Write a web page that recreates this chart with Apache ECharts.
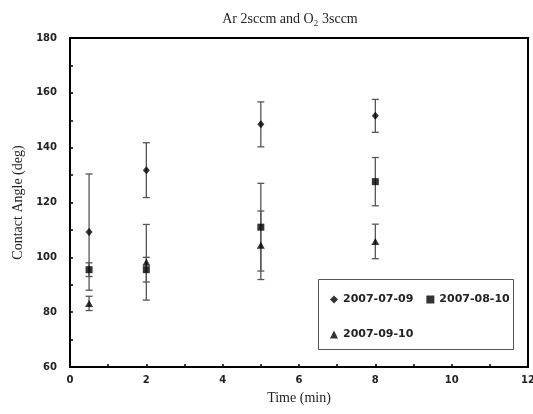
<!DOCTYPE html>
<html>
<head>
<meta charset="utf-8">
<script src="https://cdn.jsdelivr.net/npm/echarts@6/dist/echarts.min.js"></script>
<style>
html,body{margin:0;padding:0;background:#fff;}
#main{width:533px;height:414px;}
</style>
</head>
<body>
<div id="main"></div>
<script>
var times = [0.5, 2, 5, 8];                       // 处理时间 (min)
var angle0709 = [109.2, 131.8, 148.5, 151.6];     // 2007-07-09 接触角
var err0709 = [21.2, 10, 8.2, 6];
var angle0810 = [95.5, 95.5, 111, 127.6];         // 2007-08-10
var err0810 = [2.5, 4.5, 16, 8.8];
var angle0910 = [83.2, 98.2, 104.4, 105.8];       // 2007-09-10
var err0910 = [2.6, 13.8, 12.5, 6.3];

var names = ['2007-07-09', '2007-08-10', '2007-09-10'];

function pts(v){
    var out = [];
    for(var i=0;i<times.length;i++){
        out.push([times[i], v[i]]);
    }
    return out;
}
function errPts(v, e){
    var out = [];
    for(var i=0;i<times.length;i++){
        out.push([times[i], v[i]-e[i], v[i]+e[i]]);
    }
    return out;
}

// 误差线
function errSeries(v, e){
    return {
        type:'custom',
        silent:true,
        z:1,
        data: errPts(v, e),
        encode:{x:0, y:[1,2]},
        renderItem:function(params, api){
            var lo = api.coord([api.value(0), api.value(1)]);
            var hi = api.coord([api.value(0), api.value(2)]);
            var w = 3.5;
            var st = {stroke:'#555', lineWidth:1.3};
            return {
                type:'group',
                children:[
                    {type:'line', shape:{x1:hi[0], y1:hi[1], x2:lo[0], y2:lo[1]}, style:st},
                    {type:'line', shape:{x1:hi[0]-w, y1:hi[1], x2:hi[0]+w, y2:hi[1]}, style:st},
                    {type:'line', shape:{x1:lo[0]-w, y1:lo[1], x2:lo[0]+w, y2:lo[1]}, style:st}
                ]
            };
        }
    };
}

var tickFont = {color:'#222', fontSize:10, fontWeight:'bold', fontFamily:'DejaVu Sans'};
var legendText = {color:'#222', fontSize:11, fontWeight:'bold', fontFamily:'DejaVu Sans'};

var myChart = echarts.init(document.getElementById('main'));
var option = {
    animation:false,
    backgroundColor:'#fff',
    title:{
        text:'Ar 2sccm and O\u2082 3sccm',
        left:285,
        textAlign:'center',
        top:7,
        textStyle:{color:'#222', fontSize:14, fontWeight:'normal', fontFamily:'Liberation Serif'}
    },
    grid:{
        left:70,
        right:5,
        top:38,
        bottom:47,
        outerBoundsMode:'none',
        show:true,
        borderColor:'#000',
        borderWidth:2
    },
    xAxis:{
        type:'value',
        min:0,
        max:12,
        interval:2,
        name:'Time (min)',
        nameLocation:'middle',
        nameGap:24,
        nameTextStyle:{color:'#222', fontSize:14, fontFamily:'Liberation Serif'},
        axisLine:{lineStyle:{color:'#000', width:2}},
        axisTick:{inside:true, length:3, lineStyle:{color:'#000', width:1.5}},
        minorTick:{show:true, splitNumber:2, length:3, lineStyle:{color:'#000', width:1.5}},
        axisLabel:tickFont,
        splitLine:{show:false}
    },
    yAxis:{
        type:'value',
        min:60,
        max:180,
        interval:20,
        name:'Contact Angle (deg)',
        nameLocation:'middle',
        nameGap:45,
        nameTextStyle:{color:'#222', fontSize:14, fontFamily:'Liberation Serif'},
        axisLine:{lineStyle:{color:'#000', width:2}},
        axisTick:{inside:true, length:3, lineStyle:{color:'#000', width:1.5}},
        minorTick:{show:true, splitNumber:2, length:3, lineStyle:{color:'#000', width:1.5}},
        axisLabel:Object.assign({margin:13}, tickFont),
        splitLine:{show:false}
    },
    graphic:[{
        type:'rect',
        left:318,
        top:279,
        shape:{width:195, height:70},
        style:{fill:'#fff', stroke:'#555', lineWidth:1},
        z:5
    }],
    legend:[{
        data:[names[0], names[1]],
        left:325,
        top:289,
        itemWidth:8,
        itemHeight:8,
        itemGap:13,
        textStyle:legendText,
        z:10
    },{
        data:[names[2]],
        left:325,
        top:324,
        itemWidth:8,
        itemHeight:8,
        textStyle:legendText,
        z:10
    }],
    series:[
        errSeries(angle0709, err0709),
        errSeries(angle0810, err0810),
        errSeries(angle0910, err0910),
        {
            name:names[0],
            type:'scatter',
            symbol:'diamond',
            symbolSize:[7,8],
            itemStyle:{color:'#000'},
            z:3,
            data:pts(angle0709)
        },
        {
            name:names[1],
            type:'scatter',
            symbol:'rect',
            symbolSize:7,
            itemStyle:{color:'#000'},
            z:3,
            data:pts(angle0810)
        },
        {
            name:names[2],
            type:'scatter',
            symbol:'triangle',
            symbolSize:[8,7],
            itemStyle:{color:'#000'},
            z:3,
            data:pts(angle0910)
        }
    ]
};
myChart.setOption(option);
</script>
</body>
</html>
